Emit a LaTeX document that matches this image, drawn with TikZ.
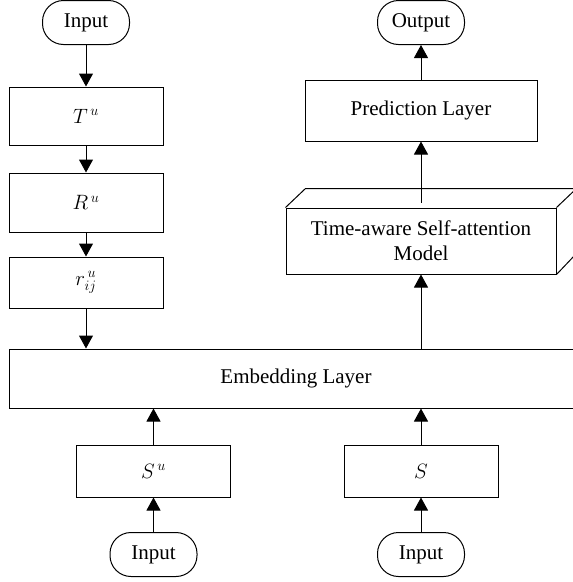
\documentclass[tikz,border=0pt]{standalone}
\usepackage{fontspec}
\setmainfont{Liberation Serif}
\usetikzlibrary{arrows.meta,calc}
\tikzset{
  box/.style={draw, line width=1pt, minimum width=154pt, minimum height=58pt, inner sep=0pt},
  pill/.style={draw, line width=1pt, rounded corners=21pt, minimum width=87pt, minimum height=44pt, inner sep=0pt},
  flow/.style={line width=1pt, -{Triangle[length=13pt,width=14pt]}}
}
\begin{document}
\begin{tikzpicture}[x=1pt,y=-1pt,font=\fontsize{21}{25}\selectfont]
\useasboundingbox (0,0) rectangle (573,582);

\begin{scope}
\clip (0,0) rectangle (573,582);

% left column
\node[pill] (in1) at (86,22.5) {Input};
\node[box] (t) at (86,116) {$T^{\,u}$};
\node[box, minimum height=59pt] (r1) at (86,202.5) {$R^{\,u}$};
\node[box, minimum height=51pt] (r2) at (86,282.5) {$r^{\,u}_{ij}$};

\node[box, minimum width=574pt, minimum height=59pt] (emb) at (296,378.5) {Embedding Layer};

% bottom inputs
\node[box, minimum height=52pt] (su) at (153.5,471) {$S^{\,u}$};
\node[box, minimum height=52pt] (s) at (421,471) {$S$};
\node[pill] (in2) at (153.5,554.5) {Input};
\node[pill] (in3) at (421,554.5) {Input};

% right column
\node[box, minimum width=270pt, minimum height=66pt, align=center] (att) at (421,241) {Time-aware Self-attention\\Model};
\draw[line width=1pt] (att.north west) -- ++(20,-19) -- ++(270,0) -- ++(0,66) -- (att.south east);
\draw[line width=1pt] (att.north east) -- ++(20,-19);
\node[box, minimum width=232pt, minimum height=61pt] (pred) at (421,110.5) {Prediction Layer};
\node[pill] (out) at (421,22.5) {Output};
\coordinate (atttop) at ($(att.north)+(0,-5)$);

% arrows
\draw[flow] (in1) -- (t);
\draw[flow] (t) -- (r1);
\draw[flow] (r1) -- (r2);
\draw[flow] (r2.south) -- (r2.south |- emb.north);
\draw[flow] (in2) -- (su);
\draw[flow] (su.north) -- (su.north |- emb.south);
\draw[flow] (in3) -- (s);
\draw[flow] (s.north) -- (s.north |- emb.south);
\draw[flow] (s.north |- emb.north) -- (att.south);
\draw[flow] (atttop) -- (pred);
\draw[flow] (pred) -- (out);

\end{scope}
\end{tikzpicture}
\end{document}
